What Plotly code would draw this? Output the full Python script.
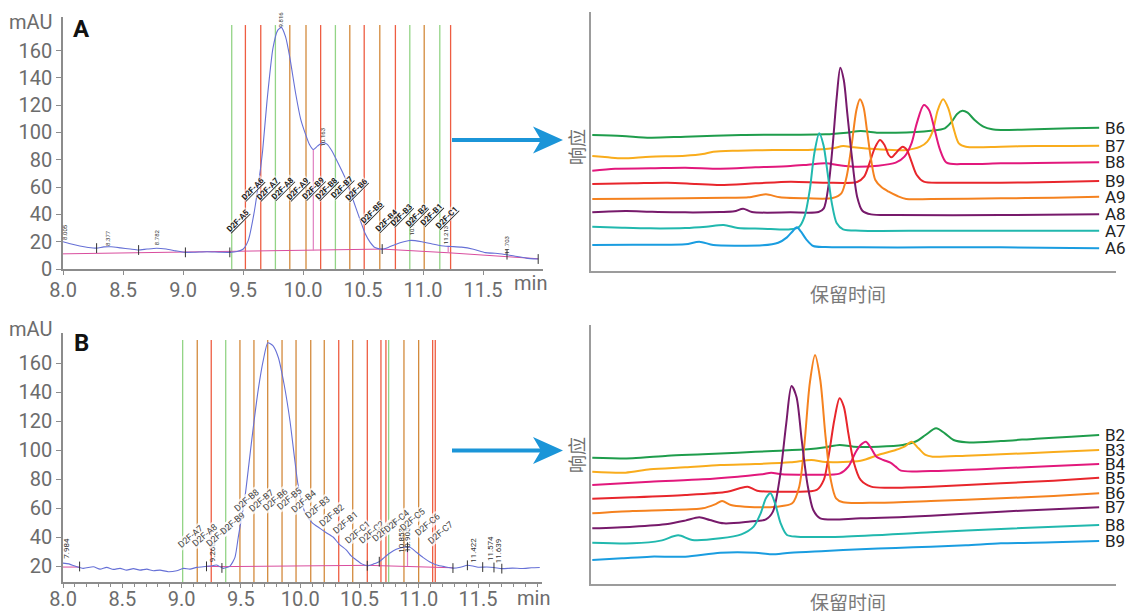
import plotly.graph_objects as go

W, H = 1127, 611


def px(x):
    return x / W


def py(y):
    return 1 - y / H


# ---------------- Panel A: prep chromatogram with fraction cuts ----------------
sig_a = [(8.00, 20), (8.06, 18.5), (8.14, 16.8), (8.21, 15.8), (8.28, 15.3), (8.34, 16.2),
         (8.40, 16.3), (8.48, 15.5), (8.56, 14.6), (8.63, 13.9), (8.70, 14.6), (8.78, 15.2),
         (8.86, 14.6), (8.94, 13.3), (9.02, 12.2), (9.10, 12.3), (9.20, 12.6), (9.30, 12.3),
         (9.39, 12.2), (9.45, 12.8), (9.50, 14.5), (9.544, 21), (9.59, 40), (9.636, 67),
         (9.664, 87), (9.70, 123), (9.75, 162), (9.79, 175), (9.82, 177), (9.855, 170),
         (9.89, 155), (9.94, 128), (9.98, 110), (10.02, 99), (10.055, 91), (10.086, 87.5),
         (10.12, 90), (10.16, 92.5), (10.20, 91.5), (10.24, 86.6), (10.29, 78), (10.35, 67),
         (10.40, 55), (10.44, 45), (10.48, 35), (10.52, 25.6), (10.56, 19.5), (10.60, 15.7),
         (10.66, 14.6), (10.71, 15.8), (10.77, 18), (10.84, 20), (10.90, 21), (10.99, 20),
         (11.07, 18.5), (11.15, 17), (11.23, 16.5), (11.32, 16), (11.42, 14.5), (11.52, 12),
         (11.60, 11.5), (11.66, 11), (11.76, 9.5), (11.86, 8), (11.96, 7.3)]
base_a = [(8.0, 11.1), (9.39, 12.9), (10.086, 13.6), (10.66, 14.6), (11.21, 11.9), (11.96, 7.5)]
drops_a = [(10.086, 13.6, 87.5), (11.21, 11.9, 16.6)]
marks_a = [(8.28, 15.3), (8.63, 13.9), (9.02, 12.2), (9.39, 12.2), (10.66, 14.6), (11.70, 10.5), (11.96, 7.3)]
peaks_a = [("8.005", 8.017, 27.2), ("8.377", 8.375, 22.8), ("8.782", 8.78, 23.0),
           ("9.816", 9.81, 183.0), ("10.163", 10.17, 96.7), ("10.903", 10.906, 31.0),
           ("11.213", 11.19, 24.6), ("11.703", 11.70, 17.2)]
cuts_a = [9.406, 9.52, 9.648, 9.77, 9.89, 10.025, 10.147, 10.27, 10.39, 10.51, 10.64,
          10.77, 10.89, 11.01, 11.14, 11.23]
cut_kind_a = ["g", "r", "r", "g", "o", "o", "r", "g", "o", "r", "o", "r", "g", "o", "g", "r"]
frac_a = [("D2F-A5", 9.461, 35.6), ("D2F-A6", 9.586, 58.9), ("D2F-A7", 9.711, 58.9),
          ("D2F-A8", 9.831, 58.9), ("D2F-A9", 9.961, 58.9), ("D2F-B9", 10.086, 58.9),
          ("D2F-B8", 10.198, 58.9), ("D2F-B7", 10.325, 59.4), ("D2F-B6", 10.448, 58.1),
          ("D2F-B5", 10.573, 41.7), ("D2F-B4", 10.698, 35.6), ("D2F-B3", 10.817, 39.3),
          ("D2F-B2", 10.948, 39.3), ("D2F-B1", 11.073, 40.0), ("D2F-C1", 11.198, 38.0)]

# ---------------- Panel B: second run ----------------
sig_b = [(8.00, 22), (8.05, 21.5), (8.10, 20), (8.171, 18.4), (8.256, 19.5), (8.312, 17.9),
         (8.368, 19.1), (8.425, 17.7), (8.481, 18.4), (8.537, 17.2), (8.593, 18.2), (8.649, 17.2),
         (8.706, 17.9), (8.762, 16.8), (8.818, 17.2), (8.888, 16.1), (8.959, 16.8), (9.015, 18.4),
         (9.071, 17.9), (9.127, 19.1), (9.183, 19.5), (9.24, 20), (9.296, 20.7), (9.352, 18.4),
         (9.408, 20), (9.45, 26), (9.478, 40), (9.505, 53), (9.535, 68), (9.57, 92), (9.605, 116),
         (9.647, 142), (9.689, 162), (9.727, 174), (9.77, 172), (9.815, 164), (9.865, 145),
         (9.914, 120), (9.95, 96), (9.98, 77), (10.01, 65), (10.04, 57), (10.10, 50), (10.167, 46),
         (10.22, 43), (10.277, 40), (10.33, 35), (10.39, 31), (10.43, 27), (10.476, 24),
         (10.52, 21.5), (10.566, 20.2), (10.62, 21.5), (10.667, 23), (10.71, 26), (10.757, 29),
         (10.81, 31.5), (10.869, 33), (10.926, 33), (10.98, 29.5), (11.035, 26), (11.09, 23),
         (11.151, 20.7), (11.22, 19.5), (11.288, 18.6), (11.35, 19.2), (11.41, 20.5), (11.457, 20),
         (11.50, 19.2), (11.573, 19.3), (11.634, 19), (11.70, 18.2), (11.79, 18.6), (11.87, 18.3),
         (11.95, 18.8), (12.02, 19)]
base_b = [[(8.0, 19.3), (8.14, 19.3)],
          [(9.21, 19.8), (9.34, 19.6), (10.566, 20.5), (11.288, 18.8)]]
drops_b = [(10.905, 20.0, 33.0)]
marks_b = [(8.14, 19.7), (9.21, 19.8), (9.34, 18.7), (10.566, 20.2), (10.667, 23), (10.905, 33),
           (11.288, 18.6), (11.41, 20.5), (11.539, 19.3), (11.634, 19), (11.70, 18.2)]
peaks_b = [("7.984", 8.03, 32.4), ("9.266", 9.267, 29.7), ("9.727", 9.745, 181.7),
           ("10.853", 10.856, 38.0), ("10.905", 10.911, 38.0), ("11.422", 11.455, 31.0),
           ("11.574", 11.60, 32.4), ("11.639", 11.67, 30.3)]
cuts_b = [9.009, 9.132, 9.25, 9.372, 9.492, 9.61, 9.726, 9.847, 9.965, 10.089, 10.203, 10.325,
          10.443, 10.566, 10.681, 10.723, 10.746, 10.875, 10.999, 11.117, 11.139]
cut_kind_b = ["g", "o", "r", "g", "o", "o", "o", "o", "o", "o", "o", "r", "o", "r", "r", "r",
              "g", "o", "o", "r", "r"]
frac_b = [("D2F-A7", 9.071, 40.0), ("D2F-A8", 9.197, 41.4), ("D2F-A9", 9.315, 41.4),
          ("D2F-B9", 9.433, 49.7), ("D2F-B8", 9.551, 65.5), ("D2F-B7", 9.67, 64.8),
          ("D2F-B6", 9.788, 65.5), ("D2F-B5", 9.906, 66.2), ("D2F-B4", 10.032, 64.8),
          ("D2F-B3", 10.15, 60.7), ("D2F-B2", 10.268, 55.2), ("D2F-B1", 10.378, 49.7),
          ("D2F-C1", 10.487, 43.4), ("D2F-C2", 10.605, 43.4), ("D2F-C3", 10.715, 44.8),
          ("D2F-C4", 10.816, 51.0), ("D2F-C5", 10.943, 51.7), ("D2F-C6", 11.07, 48.3),
          ("D2F-C7", 11.18, 42.8)]

# ---------------- Re-analysed fractions (stacked traces, arbitrary units) ----------------
top_b6 = [(0.35, 40.7), (1.2, 40.4), (2.0, 39.9), (3.0, 40.2), (4.6, 40.7), (6.0, 40.8), (7.0, 40.9),
          (7.6, 41.4), (8.0, 41.9), (8.5, 41.4), (9.0, 41.4), (10.0, 42.0), (10.4, 42.7), (10.6, 44.7),
          (10.75, 47.0), (10.9, 48.0), (11.05, 47.4), (11.25, 45.2), (11.5, 43.2), (11.75, 42.4),
          (12.0, 42.2), (13.0, 42.4), (14.0, 42.7), (14.8, 42.9)]
top_b7 = [(0.35, 34.4), (0.8, 34.0), (1.2, 33.7), (2.0, 34.2), (3.0, 34.5), (3.5, 35.0), (3.8, 35.7),
          (4.5, 36.0), (5.5, 36.2), (6.5, 36.2), (7.2, 36.7), (7.5, 37.4), (7.8, 37.0), (8.5, 36.4),
          (9.3, 36.2), (9.7, 37.2), (9.9, 38.7), (10.05, 41.7), (10.2, 48.2), (10.35, 51.4),
          (10.5, 48.7), (10.65, 42.7), (10.8, 38.2), (11.0, 37.2), (12.0, 37.2), (13.0, 37.4),
          (14.0, 37.4), (14.8, 37.5)]
top_b8 = [(0.35, 30.0), (1.0, 30.6), (2.0, 30.7), (3.0, 30.9), (4.0, 30.6), (5.0, 31.0), (6.0, 31.4),
          (6.5, 31.8), (7.0, 32.2), (7.4, 31.6), (7.8, 31.2), (8.5, 31.5), (9.0, 32.4), (9.25, 34.2),
          (9.45, 38.2), (9.6, 44.2), (9.8, 49.7), (9.95, 48.2), (10.1, 42.7), (10.25, 36.7),
          (10.45, 32.4), (11.0, 32.0), (12.0, 32.2), (13.0, 32.3), (14.8, 32.5)]
top_b9 = [(0.35, 26.0), (1.5, 26.2), (2.5, 26.4), (3.3, 26.0), (4.0, 25.7), (5.0, 26.2), (6.0, 26.7),
          (7.0, 26.4), (7.9, 26.6), (8.1, 28.2), (8.25, 32.2), (8.4, 36.7), (8.55, 39.2), (8.68, 37.7),
          (8.8, 34.7), (8.88, 34.0), (8.98, 35.0), (9.1, 36.4), (9.2, 37.2), (9.32, 36.2), (9.45, 32.7),
          (9.6, 28.7), (9.8, 26.7), (10.5, 26.4), (12.0, 26.4), (13.5, 26.6), (14.8, 26.9)]
top_a9 = [(0.35, 21.5), (1.5, 21.6), (3.0, 21.7), (4.2, 21.9), (4.8, 22.0), (5.3, 22.9), (5.7, 22.0),
          (6.5, 21.7), (7.2, 21.8), (7.45, 23.2), (7.6, 28.2), (7.75, 38.2), (7.88, 48.2), (7.98, 51.4),
          (8.08, 49.2), (8.18, 42.2), (8.3, 33.2), (8.42, 27.2), (8.6, 25.0), (8.8, 23.7), (9.05, 22.4),
          (9.3, 21.5), (10.0, 21.5), (12.0, 21.7), (13.5, 21.9), (14.8, 22.2)]
top_a8 = [(0.35, 17.5), (1.3, 17.9), (2.0, 17.7), (3.0, 17.5), (4.0, 17.6), (4.4, 17.8), (4.65, 18.6),
          (4.9, 17.6), (6.0, 17.5), (6.8, 17.6), (6.95, 18.7), (7.08, 25.2), (7.2, 37.2), (7.32, 52.2),
          (7.42, 60.9), (7.52, 57.2), (7.62, 47.2), (7.75, 34.2), (7.9, 22.2), (8.05, 18.0), (8.3, 16.9),
          (9.0, 16.7), (12.0, 16.7), (14.8, 16.9)]
top_a7 = [(0.35, 13.2), (1.2, 12.9), (2.0, 12.7), (3.0, 12.8), (3.6, 13.2), (4.1, 13.7), (4.5, 12.8),
          (5.2, 12.6), (6.0, 12.4), (6.25, 13.2), (6.4, 16.2), (6.55, 24.2), (6.68, 35.2), (6.82, 41.2),
          (6.94, 37.7), (7.06, 29.2), (7.18, 20.2), (7.32, 14.2), (7.5, 12.4), (8.0, 12.0), (10.0, 12.0),
          (12.0, 12.0), (14.8, 12.0)]
top_a6 = [(0.35, 7.7), (1.5, 7.8), (3.0, 7.9), (3.4, 8.7), (3.8, 7.7), (4.5, 7.5), (5.2, 7.6),
          (5.65, 8.4), (5.9, 10.0), (6.05, 11.7), (6.18, 13.0), (6.3, 11.7), (6.45, 9.4), (6.65, 7.4),
          (7.0, 7.1), (8.0, 7.0), (10.0, 7.0), (12.0, 7.0), (14.8, 6.7)]

bot_b2 = [(0.35, 38.0), (1.5, 37.8), (2.5, 38.6), (3.5, 39.0), (4.5, 39.5), (5.5, 40.0), (6.5, 40.5),
          (7.0, 41.1), (7.4, 41.8), (7.8, 41.3), (8.5, 41.3), (9.2, 41.8), (9.6, 43.0), (9.85, 44.8),
          (10.15, 46.8), (10.4, 45.3), (10.65, 43.3), (11.0, 42.6), (12.0, 43.0), (13.0, 43.7),
          (14.0, 44.3), (14.8, 44.8)]
bot_b3 = [(0.35, 33.8), (1.3, 33.5), (2.0, 34.5), (3.0, 35.1), (4.0, 35.8), (5.0, 36.1), (6.0, 36.6),
          (6.6, 37.3), (7.0, 36.7), (8.0, 37.1), (8.5, 38.8), (9.0, 40.3), (9.25, 41.3), (9.45, 42.8),
          (9.65, 40.8), (9.85, 38.8), (10.05, 38.3), (11.0, 38.6), (12.0, 39.0), (13.5, 39.7), (14.8, 40.3)]
bot_b4 = [(0.35, 29.8), (2.0, 30.8), (3.5, 31.5), (4.5, 32.3), (5.2, 33.0), (5.45, 33.5), (5.75, 33.0),
          (6.5, 32.9), (7.4, 33.2), (7.65, 35.3), (7.85, 39.5), (8.0, 41.8), (8.15, 42.8), (8.3, 40.8),
          (8.45, 38.3), (8.65, 37.3), (8.85, 36.5), (9.0, 35.3), (9.15, 34.1), (10.0, 34.0), (12.0, 34.8),
          (13.5, 35.5), (14.8, 36.1)]
bot_b5 = [(0.35, 25.7), (1.5, 26.1), (3.0, 26.8), (4.2, 27.8), (4.55, 28.8), (4.78, 29.3), (5.05, 28.1),
          (6.0, 27.8), (6.75, 28.3), (6.95, 31.3), (7.1, 39.3), (7.25, 49.3), (7.4, 55.8), (7.52, 53.3),
          (7.65, 45.3), (7.8, 36.8), (8.0, 31.3), (8.3, 29.3), (8.8, 29.0), (10.0, 29.3), (12.0, 30.3),
          (13.5, 31.1), (14.8, 32.0)]
bot_b6 = [(0.35, 21.3), (1.5, 22.0), (2.5, 22.3), (3.5, 22.8), (3.85, 24.0), (4.05, 25.0), (4.3, 23.8),
          (4.7, 23.3), (5.6, 23.3), (6.05, 24.3), (6.25, 29.3), (6.4, 42.3), (6.55, 60.3), (6.7, 68.8),
          (6.85, 61.3), (7.0, 44.3), (7.15, 31.3), (7.3, 25.8), (7.5, 24.6), (8.5, 24.5), (10.0, 25.0),
          (12.0, 25.8), (13.5, 26.5), (14.8, 27.3)]
bot_b7 = [(0.35, 16.8), (1.5, 17.3), (2.5, 18.1), (3.0, 19.1), (3.4, 20.1), (3.7, 19.3), (4.1, 18.3),
          (4.8, 18.8), (5.3, 19.5), (5.5, 21.8), (5.7, 32.3), (5.88, 48.3), (6.03, 59.5), (6.17, 56.3),
          (6.32, 43.3), (6.48, 30.3), (6.65, 22.3), (6.85, 19.8), (8.0, 19.8), (10.0, 20.6), (12.0, 21.8),
          (13.5, 22.5), (14.8, 23.1)]
bot_b8 = [(0.35, 12.5), (1.5, 12.3), (2.3, 13.1), (2.8, 14.7), (3.2, 13.3), (4.0, 13.8), (4.6, 15.0),
          (4.95, 17.3), (5.15, 21.3), (5.3, 25.8), (5.43, 27.3), (5.56, 24.3), (5.72, 18.3), (5.9, 14.8),
          (6.2, 14.3), (7.5, 14.3), (10.0, 15.6), (12.0, 16.6), (14.8, 17.8)]
bot_b9 = [(0.35, 7.3), (1.2, 7.8), (2.0, 8.3), (3.0, 8.3), (4.0, 9.5), (5.0, 9.5), (5.45, 9.0),
          (6.0, 9.5), (7.0, 10.0), (8.0, 10.5), (9.0, 10.9), (10.0, 11.3), (11.0, 11.7), (12.0, 12.3),
          (13.5, 12.6), (14.8, 13.0)]

top_stack = [("B6", top_b6), ("B7", top_b7), ("B8", top_b8), ("B9", top_b9),
             ("A9", top_a9), ("A8", top_a8), ("A7", top_a7), ("A6", top_a6)]
bot_stack = [("B2", bot_b2), ("B3", bot_b3), ("B4", bot_b4), ("B5", bot_b5),
             ("B6", bot_b6), ("B7", bot_b7), ("B8", bot_b8), ("B9", bot_b9)]
stack_colors = ["#1f9d4c", "#f9ac1c", "#e2187c", "#e8262c", "#f5821f", "#771a6b", "#21b8ae", "#1a9de0"]

cut_palette = {"g": "#93d486", "r": "#ee5d42", "o": "#d38a3c"}
SIGNAL = "#6670d6"
BASELINE = "#d94d9e"
TICK_GREY = "#6c6c6c"
AXIS_GREY = "#8c8c8c"

fig = go.Figure()


def add_run(sig, bases, drops, marks, cuts, kinds, top, bottom, xa, ya):
    for k in ("g", "o", "r"):
        xs, ys = [], []
        for t, kind in zip(cuts, kinds):
            if kind == k:
                xs += [t, t, None]
                ys += [bottom, top, None]
        fig.add_trace(go.Scatter(x=xs, y=ys, mode="lines", xaxis=xa, yaxis=ya,
                                 line=dict(color=cut_palette[k], width=1.3), hoverinfo="skip"))
    for b in bases:
        fig.add_trace(go.Scatter(x=[p[0] for p in b], y=[p[1] for p in b], mode="lines",
                                 xaxis=xa, yaxis=ya, line=dict(color=BASELINE, width=1)))
    xs, ys = [], []
    for t, y0, y1 in drops:
        xs += [t, t, None]
        ys += [y0, y1, None]
    fig.add_trace(go.Scatter(x=xs, y=ys, mode="lines", xaxis=xa, yaxis=ya,
                             line=dict(color="#e07fc0", width=1.2)))
    fig.add_trace(go.Scatter(x=[p[0] for p in sig], y=[p[1] for p in sig], mode="lines",
                             xaxis=xa, yaxis=ya, line=dict(color=SIGNAL, width=1.1,
                                                           shape="spline", smoothing=0.6)))
    fig.add_trace(go.Scatter(x=[p[0] for p in marks], y=[p[1] for p in marks], mode="markers",
                             xaxis=xa, yaxis=ya,
                             marker=dict(symbol="line-ns", size=7, line=dict(color="#333", width=1))))


add_run(sig_a, [base_a], drops_a, marks_a, cuts_a, cut_kind_a, 178.7, 0, "x", "y")
add_run(sig_b, base_b, drops_b, marks_b, cuts_b, cut_kind_b, 175.9, 9, "x2", "y2")

annotations = []
for label, t, v in peaks_a:
    annotations.append(dict(x=t, y=v, xref="x", yref="y", text=label, showarrow=False,
                            textangle=-90, xanchor="center", yanchor="middle",
                            font=dict(family="Roboto", size=6, color="#333")))
for label, t, v in peaks_b:
    annotations.append(dict(x=t, y=v, xref="x2", yref="y2", text=label, showarrow=False,
                            textangle=-90, xanchor="center", yanchor="middle",
                            font=dict(family="Roboto", size=8, color="#333")))
for label, t, v in frac_a:
    annotations.append(dict(x=t, y=v, xref="x", yref="y", text=label, showarrow=False,
                            textangle=-45, xanchor="center", yanchor="middle",
                            bgcolor="rgba(255,255,255,0.55)", borderpad=0,
                            font=dict(family="Roboto", size=8, color="#1e1e1e", weight="bold",
                                      lineposition="under")))
for label, t, v in frac_b:
    annotations.append(dict(x=t, y=v, xref="x2", yref="y2", text=label, showarrow=False,
                            textangle=-40, xanchor="center", yanchor="middle",
                            bgcolor="rgba(255,255,255,0.75)", borderpad=0,
                            font=dict(family="Roboto", size=9, color="#444")))

# stacked fraction re-injections
for stack, xa, ya in ((top_stack, "x3", "y3"), (bot_stack, "x4", "y4")):
    for (name, pts), col in zip(stack, stack_colors):
        fig.add_trace(go.Scatter(x=[p[0] for p in pts], y=[p[1] for p in pts], mode="lines",
                                 xaxis=xa, yaxis=ya,
                                 line=dict(color=col, width=2, shape="spline", smoothing=0.8)))
        annotations.append(dict(x=px(1103), y=pts[-1][1], xref="paper", yref=ya, text=name,
                                showarrow=False, xanchor="left", yanchor="middle",
                                font=dict(family="Roboto", size=17, color="#222")))

# axis captions and panel letters
for ytxt in (21.5, 328.5):
    annotations.append(dict(x=px(54), y=py(ytxt), xref="paper", yref="paper", text="mAU",
                            showarrow=False, xanchor="right", yanchor="middle",
                            font=dict(family="Roboto", size=20, color=TICK_GREY)))
annotations.append(dict(x=px(530), y=py(283), xref="paper", yref="paper", text="min",
                        showarrow=False, xanchor="center", yanchor="middle",
                        font=dict(family="Roboto", size=20, color=TICK_GREY)))
annotations.append(dict(x=px(533), y=py(598), xref="paper", yref="paper", text="min",
                        showarrow=False, xanchor="center", yanchor="middle",
                        font=dict(family="Roboto", size=20, color=TICK_GREY)))
for letter, yy in (("A", 28.5), ("B", 342.5)):
    annotations.append(dict(x=px(81), y=py(yy), xref="paper", yref="paper", text=f"<b>{letter}</b>",
                            showarrow=False, xanchor="center", yanchor="middle",
                            font=dict(family="Roboto", size=24, color="#111")))
for yy in (147, 455):
    annotations.append(dict(x=px(576), y=py(yy), xref="paper", yref="paper", text="响应",
                            showarrow=False, textangle=-90, xanchor="center", yanchor="middle",
                            font=dict(family="Noto Sans CJK SC", size=18, color="#6e6e6e")))
for yy in (293, 601):
    annotations.append(dict(x=px(848), y=py(yy), xref="paper", yref="paper", text="保留时间",
                            showarrow=False, xanchor="center", yanchor="middle",
                            font=dict(family="Noto Sans CJK SC", size=19, color="#7a7a7a")))

# blue arrows linking the runs to the re-analysed fractions
ARROW = "#1b95d8"
shapes = []
for yc in (140, 450.5):
    shapes.append(dict(type="line", xref="paper", yref="paper", x0=px(452), x1=px(545),
                       y0=py(yc), y1=py(yc), line=dict(color=ARROW, width=4)))
    path = (f"M {px(533)},{py(yc - 13.5)} L {px(563)},{py(yc)} L {px(533)},{py(yc + 13.5)} "
            f"L {px(541)},{py(yc)} Z")
    shapes.append(dict(type="path", xref="paper", yref="paper", path=path,
                       fillcolor=ARROW, line=dict(width=0)))

left_x = dict(showline=True, linecolor=AXIS_GREY, linewidth=1.5, ticks="outside", ticklen=4,
              tickcolor=AXIS_GREY, tickfont=dict(family="Roboto", size=20, color=TICK_GREY),
              showgrid=False, zeroline=False, automargin=False,
              tickvals=[8.0, 8.5, 9.0, 9.5, 10.0, 10.5, 11.0, 11.5], tickformat=".1f")
left_y = dict(showline=True, linecolor=AXIS_GREY, linewidth=1.5, ticks="outside", ticklen=5,
              tickcolor=AXIS_GREY, tickfont=dict(family="Roboto", size=20, color=TICK_GREY),
              showgrid=False, zeroline=False, automargin=False)
right_ax = dict(showline=True, linecolor="#9c9c9c", linewidth=1.5, ticks="", showticklabels=False,
                showgrid=False, zeroline=False, automargin=False)

fig.update_layout(
    width=W, height=H, margin=dict(l=0, r=0, t=0, b=0, autoexpand=False),
    paper_bgcolor="white", plot_bgcolor="white", showlegend=False,
    xaxis=dict(left_x, domain=[px(63), px(543)], range=[8, 12], anchor="y",
               ticklabelstandoff=-2),
    yaxis=dict(left_y, domain=[py(269), py(17)], range=[0, 184.6], anchor="x",
               tickvals=[0, 20, 40, 60, 80, 100, 120, 140, 160]),
    xaxis2=dict(left_x, domain=[px(63), px(542)], range=[8, 12.039], anchor="y2",
                ticklabelstandoff=-6,
                minor=dict(dtick=0.1, ticklen=3, tickcolor=AXIS_GREY, ticks="outside")),
    yaxis2=dict(left_y, domain=[py(582), py(333)], range=[9, 180.7], anchor="x2",
                tickvals=[20, 40, 60, 80, 100, 120, 140, 160]),
    xaxis3=dict(right_ax, domain=[px(591), px(1116)], range=[0.3135, 15.28], anchor="y3"),
    yaxis3=dict(right_ax, domain=[py(270.7), py(12)], range=[0, 77.6], anchor="x3"),
    xaxis4=dict(right_ax, domain=[px(591), px(1116)], range=[0.3135, 15.28], anchor="y4"),
    yaxis4=dict(right_ax, domain=[py(584.3), py(325)], range=[0, 77.8], anchor="x4"),
    annotations=annotations,
    shapes=shapes,
)

fig.write_html("out.html")
